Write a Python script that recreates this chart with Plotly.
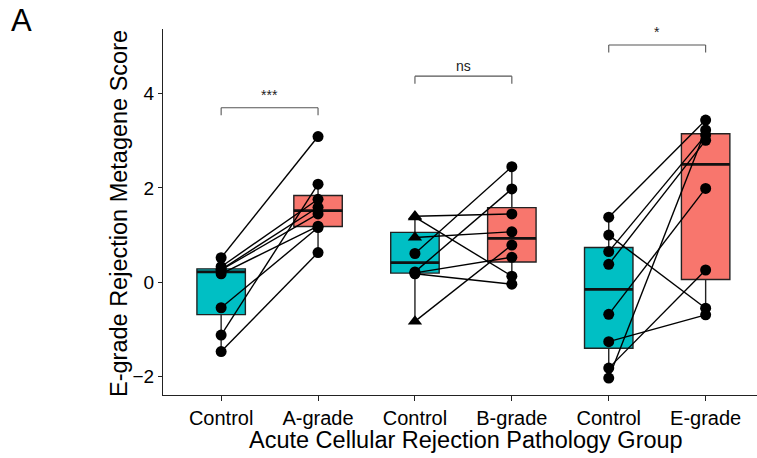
import numpy as np
import plotly.graph_objects as go

# ---------------- data ----------------
tick_labels = ["Control", "A-grade", "Control", "B-grade", "Control", "E-grade"]
sig_labels = ["***", "ns", "*"]

ctrl_A = [0.52, 0.33, 0.27, 0.26, 0.18, -0.54, -1.12, -1.47]
rej_A = [3.09, 1.76, 1.59, 1.45, 1.19, 1.16, 2.08, 0.63]
shape_A = ["circle"] * 8

ctrl_B = [1.40, 1.38, 0.95, 0.61, 0.22, 0.20, 0.18, -0.83]
rej_B = [1.45, 0.13, 1.07, 2.45, 1.98, 0.53, -0.04, 0.79]
shape_B = ["triangle-up", "triangle-up", "triangle-up", "circle", "circle", "circle", "circle", "triangle-up"]

ctrl_E = [1.38, 1.00, 0.65, 0.38, -0.68, -1.26, -1.82, -2.03]
rej_E = [3.44, -0.55, 3.12, 3.01, 1.99, -0.69, 0.26, 3.23]
shape_E = ["circle"] * 8

# ---------------- styles ----------------
TEAL = "#00BFC4"
SALMON = "#F8766D"
FONT = "Liberation Sans, Arial, sans-serif"
BOX_W = 0.5
bracket_top = [3.70, 4.37, 5.03]
bracket_tip = 0.16
sig_shift = [3, 0, 3]

pairs = [(ctrl_A, rej_A, shape_A), (ctrl_B, rej_B, shape_B), (ctrl_E, rej_E, shape_E)]


def box_stats(v):
    a = np.sort(np.asarray(v, dtype=float))
    q1, med, q3 = np.percentile(a, [25, 50, 75])
    iqr = q3 - q1
    lo = a[a >= q1 - 1.5 * iqr].min()
    hi = a[a <= q3 + 1.5 * iqr].max()
    return q1, med, q3, lo, hi


fig = go.Figure()

# boxes
for gi, (c, r, s) in enumerate(pairs):
    for k, (vals, col) in enumerate([(c, TEAL), (r, SALMON)]):
        pos = 2 * gi + k + 1
        q1, med, q3, lo, hi = box_stats(vals)
        fig.add_trace(go.Box(
            x=[pos], q1=[q1], median=[med], q3=[q3],
            lowerfence=[lo], upperfence=[hi],
            width=BOX_W, fillcolor=col, whiskerwidth=0,
            line=dict(color="#222222", width=1.4),
            boxpoints=False, showlegend=False, hoverinfo="skip"))
        fig.add_trace(go.Scatter(
            x=[pos - BOX_W / 2, pos + BOX_W / 2], y=[med, med], mode="lines",
            line=dict(color="#111111", width=2.8), showlegend=False, hoverinfo="skip"))

# paired lines
for gi, (c, r, s) in enumerate(pairs):
    xc, xr = 2 * gi + 1, 2 * gi + 2
    lx, ly = [], []
    for cv, rv in zip(c, r):
        lx += [xc, xr, None]
        ly += [cv, rv, None]
    fig.add_trace(go.Scatter(x=lx, y=ly, mode="lines",
                             line=dict(color="black", width=1.4),
                             showlegend=False, hoverinfo="skip"))

# points
for gi, (c, r, s) in enumerate(pairs):
    xc, xr = 2 * gi + 1, 2 * gi + 2
    fig.add_trace(go.Scatter(
        x=[xc] * len(c), y=c, mode="markers",
        marker=dict(color="black", opacity=1,
                    size=[12.5 if m == "triangle-up" else 11 for m in s],
                    symbol=s, line=dict(width=0)),
        showlegend=False))
    fig.add_trace(go.Scatter(
        x=[xr] * len(r), y=r, mode="markers",
        marker=dict(color="black", opacity=1, size=11, symbol="circle", line=dict(width=0)),
        showlegend=False))

# significance brackets
shapes = []
annotations = []
for gi, lab in enumerate(sig_labels):
    x0, x1 = 2 * gi + 1, 2 * gi + 2
    yt = bracket_top[gi]
    yb = yt - bracket_tip
    for (ax0, ay0, ax1, ay1) in [(x0, yb, x0, yt), (x0, yt, x1, yt), (x1, yt, x1, yb)]:
        shapes.append(dict(type="line", xref="x", yref="y", x0=ax0, y0=ay0, x1=ax1, y1=ay1,
                           line=dict(color="#555555", width=1.1)))
    annotations.append(dict(x=(x0 + x1) / 2, y=yt, xref="x", yref="y", text=lab,
                            showarrow=False, yanchor="bottom", yshift=sig_shift[gi],
                            font=dict(family=FONT, size=14, color="#222222")))

W, H = 757, 458
ML, MR, MT, MB = 163, 0, 29, 458 - 395
pw, ph = W - ML - MR, H - MT - MB


def px_to_paper(xp, yp):
    return (xp - ML) / pw, (H - MB - yp) / ph


ax_, ay_ = px_to_paper(21, 21)
annotations.append(dict(text="A", xref="paper", yref="paper", x=ax_, y=ay_,
                        showarrow=False, xanchor="center", yanchor="middle",
                        font=dict(family=FONT, size=31, color="black")))
tx, ty = px_to_paper(119, 214)
annotations.append(dict(text="E-grade Rejection Metagene Score", xref="paper", yref="paper",
                        x=tx, y=ty, textangle=-90,
                        showarrow=False, xanchor="center", yanchor="middle",
                        font=dict(family=FONT, size=23.5, color="black")))
bx, by = px_to_paper(466, 440)
annotations.append(dict(text="Acute Cellular Rejection Pathology Group", xref="paper", yref="paper",
                        x=bx, y=by,
                        showarrow=False, xanchor="center", yanchor="middle",
                        font=dict(family=FONT, size=23.5, color="black")))

fig.update_layout(
    width=W, height=H,
    margin=dict(l=ML, r=MR, t=MT, b=MB),
    paper_bgcolor="white", plot_bgcolor="white",
    font=dict(family=FONT, color="black"),
    shapes=shapes, annotations=annotations,
    xaxis=dict(range=[0.4, 6.53], tickvals=[1, 2, 3, 4, 5, 6], ticktext=tick_labels,
               showline=True, linecolor="#222222", linewidth=1.1, ticks="outside",
               ticklen=5, tickcolor="#222222", showgrid=False, zeroline=False,
               tickfont=dict(family=FONT, size=20, color="black")),
    yaxis=dict(range=[-2.39, 5.37], tickvals=[-2, 0, 2, 4],
               showline=True, linecolor="#222222", linewidth=1.1, ticks="outside",
               ticklen=4, tickcolor="#222222", showgrid=False, zeroline=False,
               tickfont=dict(family=FONT, size=19, color="black")),
)

fig.write_html("out.html", config={"displayModeBar": False},
               post_script="document.body.style.margin='0px';")
